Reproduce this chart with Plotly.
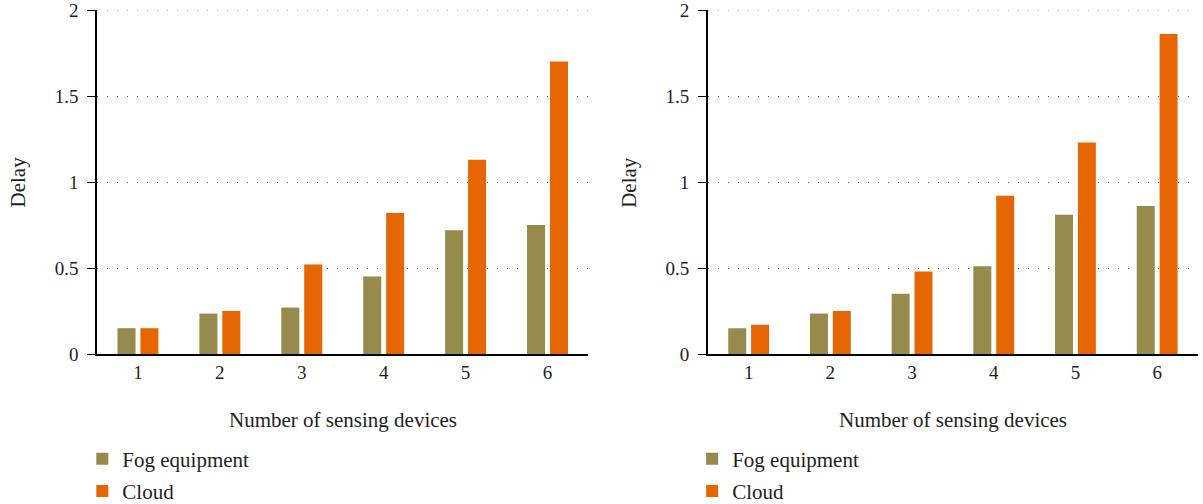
import plotly.graph_objects as go
from plotly.subplots import make_subplots

categories = ["1", "2", "3", "4", "5", "6"]
fog_left = [0.15, 0.235, 0.27, 0.45, 0.72, 0.75]
cloud_left = [0.15, 0.25, 0.52, 0.82, 1.13, 1.70]
fog_right = [0.15, 0.235, 0.35, 0.51, 0.81, 0.86]
cloud_right = [0.17, 0.25, 0.48, 0.92, 1.23, 1.86]
y_ticks = [0, 0.5, 1, 1.5, 2]
y_ticktext = ["0", "0.5", "1", "1.5", "2"]

FOG = "#968A4C"
CLOUD = "#E66604"
FONT = "Liberation Serif"
TXT = "#231F20"
GRID = "#555555"
DASH = "1px,9px"

W, H = 1203, 504
L, R, T, B = 96.7, 1198, 10, 354.3
PW, PH = R - L, B - T


def px(x):
    return (x - L) / PW


def py(y):
    return (B - y) / PH


fig = make_subplots(rows=1, cols=2)

for col, (fog, cloud, lg) in enumerate([(fog_left, cloud_left, "legend"),
                                         (fog_right, cloud_right, "legend2")], start=1):
    fig.add_trace(go.Bar(x=categories, y=fog, name="Fog equipment", marker_color=FOG,
                         width=0.22, offset=-0.25, legend=lg, legendgroup=f"fog{col}",
                         marker_line_width=0), row=1, col=col)
    fig.add_trace(go.Bar(x=categories, y=cloud, name="Cloud", marker_color=CLOUD,
                         width=0.22, offset=0.03, legend=lg, legendgroup=f"cloud{col}",
                         marker_line_width=0), row=1, col=col)

leg_common = dict(xanchor="left", yanchor="top", tracegroupgap=2,
                  font=dict(size=21, family=FONT, color=TXT), bgcolor="rgba(0,0,0,0)")
fig.update_layout(
    width=W, height=H,
    margin=dict(l=L, r=W - R, t=T, b=H - B, autoexpand=False),
    plot_bgcolor="white", paper_bgcolor="white",
    font=dict(family=FONT, size=19, color=TXT),
    barmode="overlay",
    xaxis=dict(domain=[0, px(588.3)]),
    xaxis2=dict(domain=[px(707.7), 1]),
    legend=dict(x=px(82), y=py(439), **leg_common),
    legend2=dict(x=px(692), y=py(439), **leg_common),
)
fig.update_xaxes(showline=True, linecolor="black", linewidth=1.5, ticks="",
                 showgrid=False, range=[-0.5, 5.5], tickfont=dict(size=19),
                 zeroline=False)
fig.update_yaxes(domain=[0, 1], range=[0, 2], tickvals=y_ticks, ticktext=y_ticktext,
                 showline=True, linecolor="black", linewidth=1.5, ticks="outside",
                 ticklen=8, tickcolor="black", tickwidth=1.2, ticklabelstandoff=5,
                 ticklabeloverflow="allow",
                 showgrid=True, gridcolor=GRID, gridwidth=1, griddash=DASH,
                 zeroline=False, tickfont=dict(size=19))

# top grid line at y = 2 (plotly drops grid lines at the range edge)
for xr, yr in [("x domain", "y"), ("x2 domain", "y2")]:
    fig.add_shape(type="line", xref=xr, yref=yr, x0=0, x1=1, y0=y_ticks[-1], y1=y_ticks[-1],
                  line=dict(color=GRID, width=1, dash=DASH), layer="below")

for cx, dx in [((96.7 + 588.3) / 2, 17.3), ((707.7 + 1198) / 2, 628.8)]:
    fig.add_annotation(text="Number of sensing devices", x=px(cx), y=py(420),
                       xref="paper", yref="paper", showarrow=False,
                       xanchor="center", yanchor="middle",
                       font=dict(size=21, family=FONT, color=TXT))
    fig.add_annotation(text="Delay", x=px(dx), y=py(182), xref="paper", yref="paper",
                       showarrow=False, textangle=-90, xanchor="center", yanchor="middle",
                       font=dict(size=21, family=FONT, color=TXT))

fig.write_html("out.html", config={"displayModeBar": False},
               post_script="document.body.style.margin='0px';")
